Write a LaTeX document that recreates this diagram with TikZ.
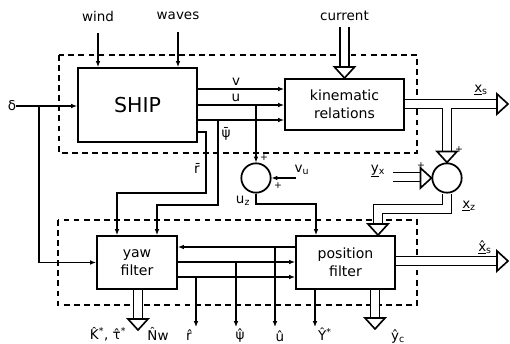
\documentclass[tikz,border=0pt]{standalone}
\usepackage{fontspec}
\setmainfont{DejaVu Sans}
\usetikzlibrary{arrows.meta}
\newcommand\hd[1]{\draw[vhead] (#1) -- ++(-10,-11) -- ++(20,0) -- cycle;}
\newcommand\hr[1]{\draw[vhead] (#1) -- ++(-11,-10) -- ++(0,20) -- cycle;}
\begin{document}
\begin{tikzpicture}[x=0.03cm,y=-0.03cm,
  blk/.style={draw, line width=1.6pt, align=center, inner sep=0pt, font=\fontsize{12}{15}\selectfont},
  sig/.style={line width=1.5pt, -{Latex[length=5pt,width=4pt]}},
  dbox/.style={line width=1.5pt, dash pattern=on 5pt off 3.6pt},
  lab/.style={font=\fontsize{11.5}{13}\selectfont, inner sep=0pt},
  pm/.style={font=\fontsize{8}{8}\selectfont, inner sep=0pt},
  vo/.style={line width=9pt, line join=miter},
  vi/.style={line width=6.2pt, white, line join=miter},
  vhead/.style={draw, fill=white, line width=1.4pt, line join=miter},
  sumc/.style={draw, circle, line width=1.5pt, minimum size=0.88cm, inner sep=0pt}
]
\useasboundingbox (0,0) rectangle (510,344);
% dashed boxes
\draw[dbox] (59,55) rectangle (417,153);
\draw[dbox] (58,220) rectangle (417,305);
% blocks
\node[blk, minimum width=3.57cm, minimum height=2.22cm, font=\fontsize{17.5}{20}\selectfont] (ship) at (137.5,105) {SHIP};
\node[blk, minimum width=3.57cm, minimum height=1.53cm] (kin) at (344.5,104.5) {kinematic\\relations};
\node[blk, minimum width=2.4cm, minimum height=1.59cm] (yaw) at (137,262.5) {yaw\\filter};
\node[blk, minimum width=2.97cm, minimum height=1.59cm] (pos) at (345.5,262.5) {position\\filter};
\node[sumc] (s1) at (256,178) {};
\node[sumc] (s2) at (447,178) {};
% input labels
\node[lab] (wind) at (98,16) {wind};
\node[lab] (waves) at (178,16) {waves};
\node[lab] (cur) at (344.5,16) {current};
\node[lab] (delta) at (12,106) {δ};
% inputs
\draw[sig, shorten <=10pt] (wind) -- (wind |- ship.north);
\draw[sig, shorten <=10pt] (waves) -- (waves |- ship.north);
\draw[sig] (delta.east) -- (delta.east -| ship.west);
\coordinate (dj) at (39,106);
\draw[sig] (dj) |- (yaw.west);
% current
\draw[vo] (344.5,27) -- (344.5,68);
\draw[vi] (344.5,27) -- (344.5,68);
\hd{kin.north}
% ship -> kinematic
\draw[sig] (ship.east |- 0,89) -- (kin.west |- 0,89);
\draw[sig] (ship.east |- 0,105) -- (kin.west |- 0,105);
\draw[sig] (ship.east |- 0,120) -- (kin.west |- 0,120);
\node[lab] (lv) at (236,82) {v};
\node[lab] (lu) at (236,98) {u};
% r bar and psi bar
\draw[sig] (ship.east |- 0,132) -| (206,193) -| (yaw.north -| 117,0);
\draw[sig] (218,120) |- (157,205) -- (yaw.north -| 157,0);
\node[lab] (lrb) at (197,168) {r̄};
\node[lab] (lpb) at (226,134) {ψ̄};
% summer 1
\draw[sig] (256,105) -- (s1.north);
\draw[sig] (296,178) -- (s1.east);
\node[lab] (lvu) at (302,170) {v\textsubscript{u}};
\node[pm] at (264,158) {+};
\node[pm] at (278,186) {+};
\draw[sig] (s1.south) |- (316,204) -- (pos.north -| 316,0);
\node[lab] (luz) at (243,201) {u\textsubscript{z}};
% x_s output and branch
\draw[vo] (kin.east |- 0,104) -- (497,104);
\draw[vo] (447,104) -- (447,152);
\draw[vi] (kin.east |- 0,104) -- (497,104);
\draw[vi] (447,104) -- (447,152);
\hr{508,104}
\hd{s2.north}
\node[lab] (lxs) at (481,90) {\underline{x}\textsubscript{s}};
% y_x input
\draw[vo] (393,177) -- (421,177);
\draw[vi] (393,177) -- (421,177);
\hr{s2.west}
\node[lab] (lyx) at (378,171) {\underline{y}\textsubscript{x}};
\node[pm] at (421,166) {+};
\node[pm] at (459,150) {+};
% x_z
\draw[vo] (s2.south) |- (378,209) -- (378,225);
\draw[vi] (s2.south) |- (378,209) -- (378,225);
\hd{pos.north -| 378,0}
\node[lab] (lxz) at (469,206) {\underline{x}\textsubscript{z}};
% filter interconnections
\draw[sig] (pos.west |- 0,247) -- (yaw.east |- 0,247);
\draw[sig] (yaw.east |- 0,262) -- (pos.west |- 0,262);
\draw[sig] (yaw.east |- 0,277) -- (pos.west |- 0,277);
% outputs
\draw[sig] (275,247) -- (275,327);
\draw[sig] (236,262) -- (236,327);
\draw[sig] (196,277) -- (196,327);
\draw[sig] (pos.south -| 315,0) -- (315,327);
\node[lab] (luh) at (280,336) {û};
\node[lab] (lph) at (240,336) {ψ̂};
\node[lab] (lrh) at (189,335) {r̂};
\node[lab] (lYh) at (325,334) {Ŷ\textsuperscript{*}};
% yaw filter vector output
\draw[vo] (yaw.south -| 138,0) -- (138,319);
\draw[vi] (yaw.south -| 138,0) -- (138,319);
\hd{138,330}
\node[lab] (lK) at (108,334) {K̂\textsuperscript{*}, τ̂\textsuperscript{*}};
\node[lab] (lN) at (158,334) {N̂w};
% position filter vector outputs
\draw[vo] (pos.south -| 375,0) -- (375,318);
\draw[vi] (pos.south -| 375,0) -- (375,318);
\hd{375,329}
\node[lab] (lyc) at (398,336) {ŷ\textsubscript{c}};
\draw[vo] (pos.east |- 0,261) -- (497,261);
\draw[vi] (pos.east |- 0,261) -- (497,261);
\hr{508,261}
\node[lab] (lxh) at (485,247) {\underline{x̂}\textsubscript{s}};
\end{tikzpicture}
\end{document}
